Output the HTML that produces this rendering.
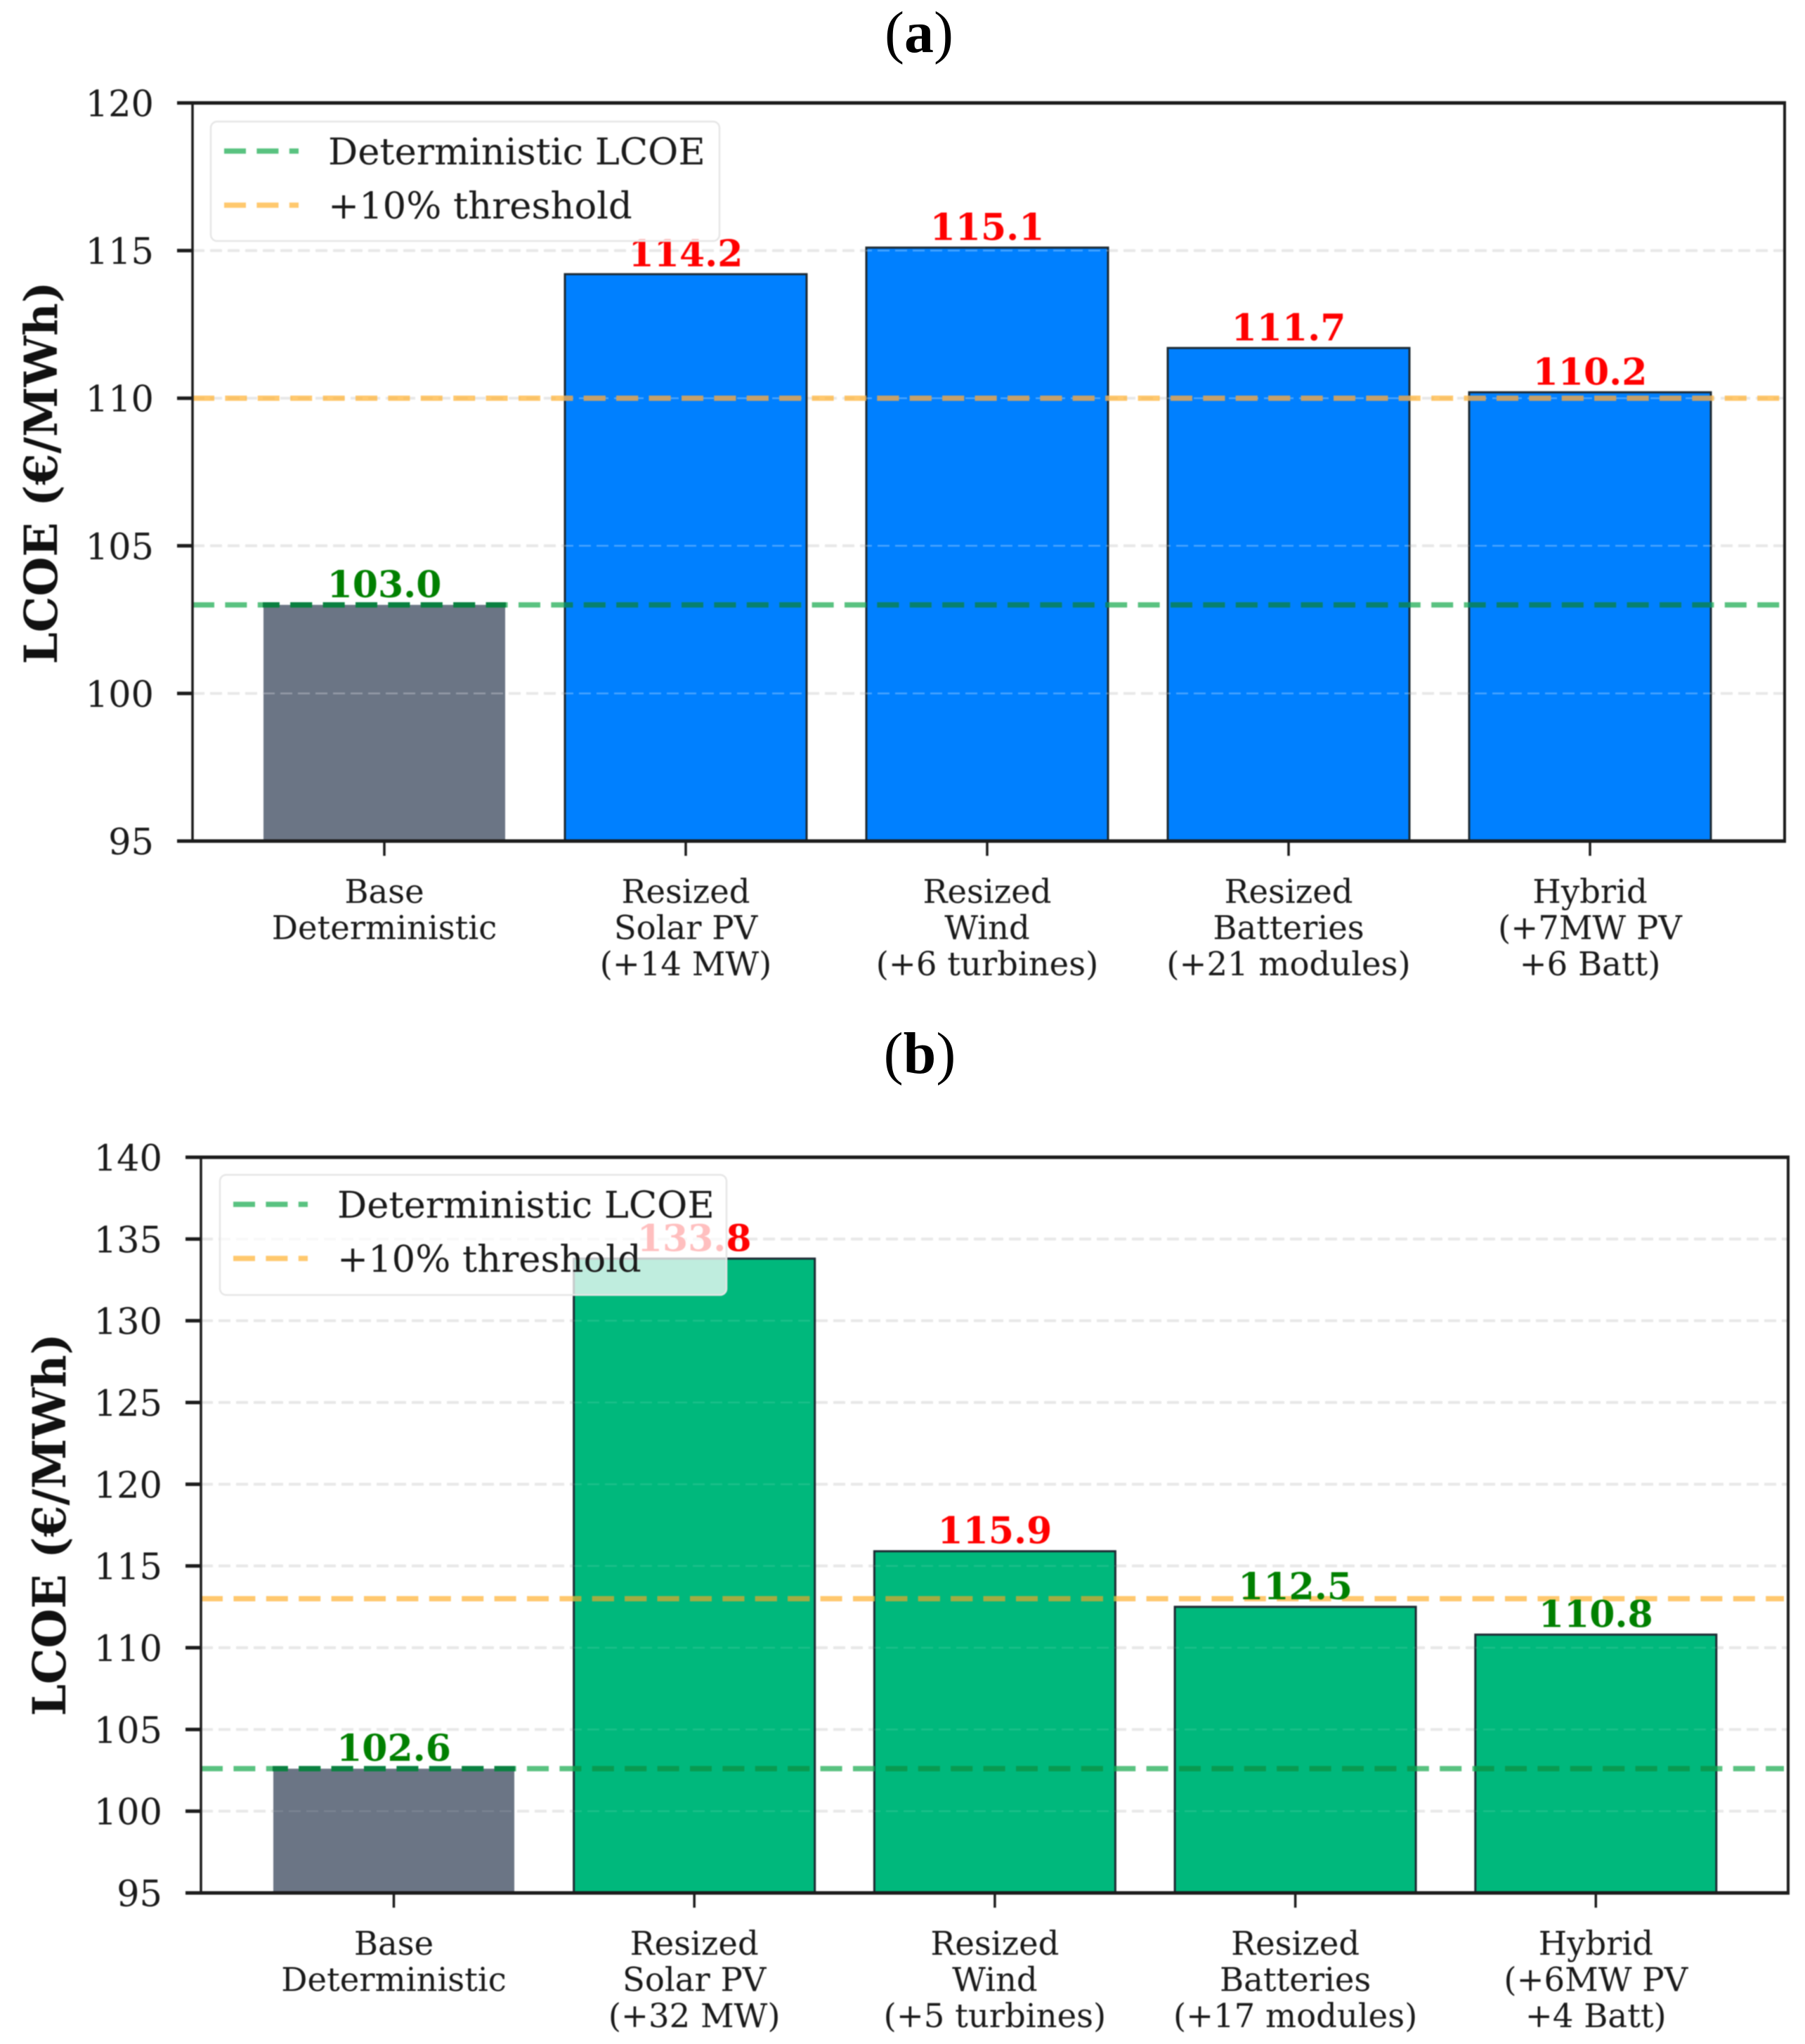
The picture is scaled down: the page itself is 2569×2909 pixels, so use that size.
<!DOCTYPE html>
<html lang="en">
<head>
<meta charset="utf-8">
<title>LCOE comparison charts</title>
<style>
html,body{margin:0;padding:0;background:#fff;}
body{width:2569px;height:2909px;overflow:hidden;}
svg{display:block;}
text{font-family:"DejaVu Serif","Liberation Serif",serif;}
.chart{filter:blur(0.8px);}
.panel-title{font-family:"Liberation Serif","DejaVu Serif",serif;font-size:84px;fill:#000;text-anchor:middle;}
</style>
</head>
<body>
<svg id="fig" xmlns="http://www.w3.org/2000/svg" width="2569" height="2909" viewBox="0 0 2569 2909">
  <text class="panel-title" x="1308" y="74">(<tspan font-weight="bold">a</tspan>)</text>
  <text class="panel-title" x="1309" y="1527">(<tspan font-weight="bold">b</tspan>)</text>
</svg>
<script>
// Panel (a) data
const categoriesA = [["Base","Deterministic"],["Resized","Solar PV","(+14 MW)"],["Resized","Wind","(+6 turbines)"],["Resized","Batteries","(+21 modules)"],["Hybrid","(+7MW PV","+6 Batt)"]];
const valuesA = [103.0, 114.2, 115.1, 111.7, 110.2];
const yTicksA = [95, 100, 105, 110, 115, 120];
const deterministicA = 103.0;
const thresholdA = 110.0;

// Panel (b) data
const categoriesB = [["Base","Deterministic"],["Resized","Solar PV","(+32 MW)"],["Resized","Wind","(+5 turbines)"],["Resized","Batteries","(+17 modules)"],["Hybrid","(+6MW PV","+4 Batt)"]];
const valuesB = [102.6, 133.8, 115.9, 112.5, 110.8];
const yTicksB = [95, 100, 105, 110, 115, 120, 125, 130, 135, 140];
const deterministicB = 102.6;
const thresholdB = 113.0;

const yAxisTitle = "LCOE (€/MWh)";
const legendLabels = ["Deterministic LCOE", "+10% threshold"];

const SVGNS = "http://www.w3.org/2000/svg";
const fig = document.getElementById("fig");
const defs = document.createElementNS(SVGNS, "defs");
fig.appendChild(defs);

function mk(parent, tag, attrs, txt) {
  const el = document.createElementNS(SVGNS, tag);
  for (const k in attrs) el.setAttribute(k, attrs[k]);
  if (txt !== undefined) el.textContent = txt;
  parent.appendChild(el);
  return el;
}

function drawChart(id, g, categories, values, yTicks, detValue, thrValue) {
  const yMin = yTicks[0], yMax = yTicks[yTicks.length - 1];
  const y = v => g.bottom - (v - yMin) * (g.bottom - g.top) / (yMax - yMin);
  const x = i => g.c0 + i * g.step;
  const barW = g.barW;
  const ink = "#1c1c1c";
  const DASH = "31 15.4";

  const root = mk(fig, "g", { class: "chart" });
  
  

  // grid below the bars
  yTicks.forEach(t => {
    if (t === yMin || t === yMax) return;
    const gl = mk(root, "line", {
      x1: g.left, x2: g.right, y1: y(t), y2: y(t),
      stroke: "#c8c8c8", "stroke-width": 4, "stroke-opacity": 0.42,
      "stroke-dasharray": "17 8"
    });
    
    
  });

  // bars
  values.forEach((v, i) => {
    const base = i === 0;
    const bar = mk(root, "rect", {
      x: x(i) - barW / 2, y: y(v), width: barW, height: g.bottom - y(v),
      fill: base ? "#6b7585" : g.barColor,
      stroke: base ? "none" : "#1d2a33",
      "stroke-width": 3
    });
    
    
    const cp = mk(defs, "clipPath", { id: "clip-" + id + "-" + i });
    mk(cp, "rect", { x: x(i) - barW / 2 - 1, y: y(v) - 5, width: barW + 2, height: g.bottom - y(v) + 5 });
  });

  // faint grid across the bars
  values.forEach((v, i) => {
    yTicks.forEach(t => {
      if (t === yMin || t === yMax || t >= v) return;
      const gb = mk(root, "line", {
        x1: g.left, x2: g.right, y1: y(t), y2: y(t),
        stroke: "#ffffff", "stroke-width": 2.5, "stroke-opacity": g.gridOver,
        "stroke-dasharray": "17 8", "clip-path": "url(#clip-" + id + "-" + i + ")"
      });
      
      
    });
  });

  // reference lines
  const det = mk(root, "line", {
    x1: g.left, x2: g.right - 6, y1: y(detValue), y2: y(detValue),
    stroke: "#12a84a", "stroke-width": 7.5, "stroke-opacity": 0.7,
    "stroke-dasharray": DASH
  });
  
  
  const thr = mk(root, "line", {
    x1: g.left, x2: g.right - 6, y1: y(thrValue), y2: y(thrValue),
    stroke: "#ffb742", "stroke-width": 7.5, "stroke-opacity": 0.77,
    "stroke-dasharray": DASH
  });
  
  

  // darker dash tone where the reference lines cross a bar
  values.forEach((v, i) => {
    const base = i === 0;
    if (detValue <= v + 0.1) {
      const d2 = mk(root, "line", {
        x1: g.left, x2: g.right - 6, y1: y(detValue), y2: y(detValue),
        stroke: base ? "#0a8040" : g.detOver, "stroke-width": 7.5,
        "stroke-dasharray": DASH, "clip-path": "url(#clip-" + id + "-" + i + ")"
      });
      
      
    }
    if (thrValue <= v) {
      const t2 = mk(root, "line", {
        x1: g.left, x2: g.right - 6, y1: y(thrValue), y2: y(thrValue),
        stroke: g.thrOver, "stroke-width": 7.5,
        "stroke-dasharray": DASH, "clip-path": "url(#clip-" + id + "-" + i + ")"
      });
      
      
    }
  });

  // value labels
  values.forEach((v, i) => {
    const lab = mk(root, "text", {
      x: x(i), y: y(v) - 11, "text-anchor": "middle",
      "font-size": 52, "font-weight": "bold",
      fill: v > thrValue ? "#ff0000" : "#008000"
    }, v.toFixed(1));
    
    
  });

  // spines
  const spines = [
    [g.left, g.top, g.left, g.bottom, 3.5],
    [g.right, g.top, g.right, g.bottom, 4],
    [g.left - 2, g.top, g.right + 2, g.top, 5],
    [g.left - 2, g.bottom, g.right + 2, g.bottom, 5]
  ];
  spines.forEach(s => {
    const sp = mk(root, "line", { x1: s[0], y1: s[1], x2: s[2], y2: s[3], stroke: ink, "stroke-width": s[4] });
    
    
  });

  // y ticks
  yTicks.forEach(t => {
    const tk = mk(root, "line", { x1: g.left - 22, x2: g.left, y1: y(t), y2: y(t), stroke: ink, "stroke-width": 5 });
    
    
    const tl = mk(root, "text", {
      x: g.left - 55, y: y(t) + 19, "text-anchor": "end", "font-size": 51, fill: "#1a1a1a"
    }, String(t));
    
    
  });

  // x ticks + labels
  categories.forEach((lines, i) => {
    const tk = mk(root, "line", { x1: x(i), x2: x(i), y1: g.bottom, y2: g.bottom + 21, stroke: ink, "stroke-width": 3.5 });
    
    
    const tl = mk(root, "text", { "text-anchor": "middle", "font-size": 46.5, fill: "#1a1a1a" });
    
    
    lines.forEach((ln, j) => {
      mk(tl, "tspan", { x: x(i), y: g.bottom + 88 + j * 51.5 }, ln);
    });
  });

  // y axis title
  const yt = mk(root, "text", {
    transform: "translate(" + g.ylx + "," + g.yly + ") rotate(-90)",
    "text-anchor": "middle", "font-size": 64.5, "font-weight": "bold", fill: "#111"
  }, yAxisTitle);
  
  

  // legend
  const lg = g.legend;
  const box = mk(root, "rect", {
    x: lg.x, y: lg.y, width: lg.w, height: lg.h, rx: 9, ry: 9,
    fill: "#ffffff", "fill-opacity": 0.75, stroke: "#e6e6e6", "stroke-width": 2.5
  });
  
  
  const swatchColors = ["#12a84a", "#ffb742"];
  const swatchAlpha = [0.7, 0.77];
  legendLabels.forEach((label, i) => {
    const ly = lg.y + 42 + i * 77;
    const sw = mk(root, "line", {
      x1: lg.x + 19, x2: lg.x + 125, y1: ly, y2: ly,
      stroke: swatchColors[i], "stroke-width": 7.5, "stroke-opacity": swatchAlpha[i],
      "stroke-dasharray": DASH
    });
    
    
    const tx = mk(root, "text", {
      x: lg.x + 167, y: ly + 19, "font-size": 52.7, fill: "#1a1a1a"
    }, label);
    
    
  });
}

drawChart("a", {
  left: 274, right: 2540, top: 146.5, bottom: 1197,
  c0: 547, step: 429, barW: 344,
  barColor: "#0080ff", detOver: "#07806f", thrOver: "#c4a06a", gridOver: 0.28,
  ylx: 81, yly: 673,
  legend: { x: 300, y: 173, w: 724, h: 170 }
}, categoriesA, valuesA, yTicksA, deterministicA, thresholdA);

drawChart("b", {
  left: 286, right: 2545, top: 1647, bottom: 2694,
  c0: 560.5, step: 427.7, barW: 343,
  barColor: "#00b87c", detOver: "#089a50", thrOver: "#a2ac42", gridOver: 0.1,
  ylx: 93, yly: 2170,
  legend: { x: 313, y: 1672, w: 721, h: 171 }
}, categoriesB, valuesB, yTicksB, deterministicB, thresholdB);
</script>
</body>
</html>
